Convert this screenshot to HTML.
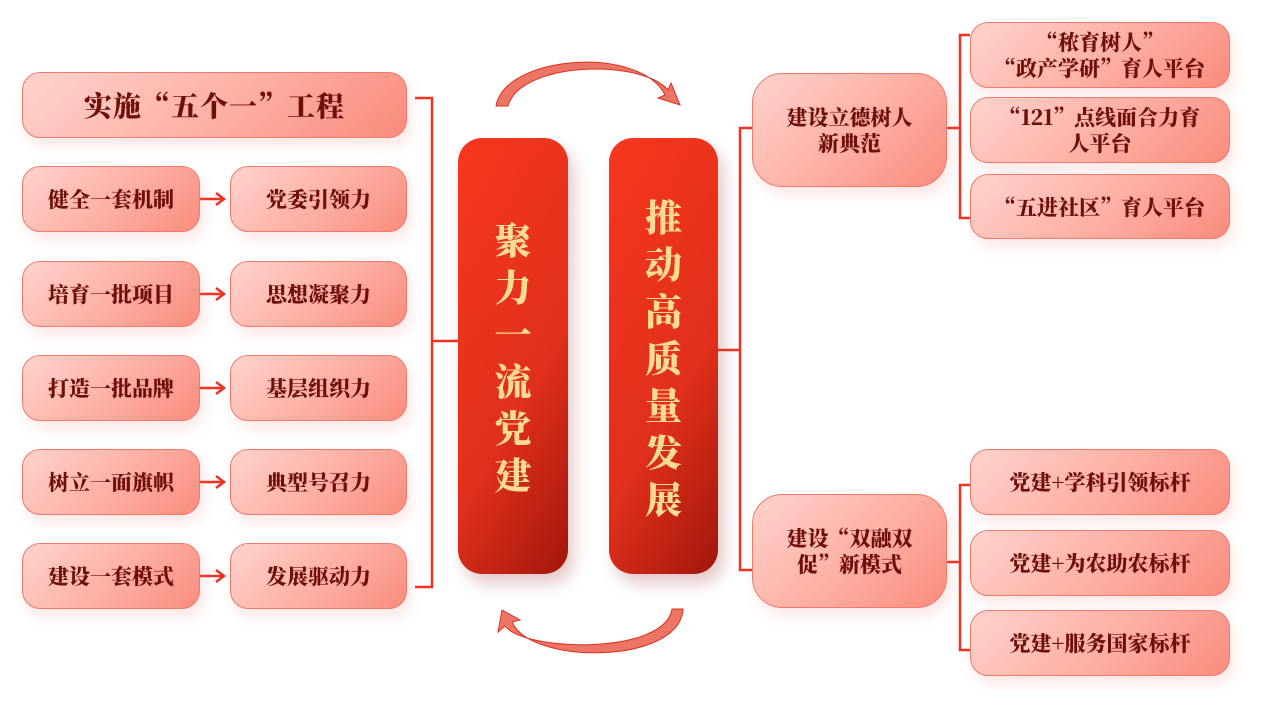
<!DOCTYPE html>
<html><head><meta charset="utf-8"><style>
body{margin:0;width:1281px;height:728px;background:#fff;position:relative;overflow:hidden;font-family:"Noto Serif CJK SC","Liberation Serif",serif;}
.b{position:absolute;box-sizing:border-box;border:1.5px solid #f07a6c;border-radius:18px;background:linear-gradient(135deg,#ffd3cc 0%,#fdaea3 55%,#f98c7d 100%);display:flex;align-items:center;justify-content:center;text-align:center;color:#6e0f0c;font-weight:900;font-size:21px;line-height:26px;box-shadow:4px 8px 14px rgba(240,120,110,0.18);}
.col{position:absolute;border-radius:24px;background:linear-gradient(120deg,#f8361f 0%,#e0301b 60%,#a2160c 100%);color:#fadb94;font-weight:900;font-size:37px;line-height:47px;display:flex;align-items:center;justify-content:center;text-align:center;box-shadow:6px 10px 16px rgba(150,40,40,0.25);}
svg{position:absolute;left:0;top:0}
</style></head><body>
<svg width="1281" height="728">
<g stroke="#ee3322" stroke-width="2.5" fill="none">
<path d="M415 98 H432 V587 H415"/>
<path d="M432 341 H458"/>
<path d="M200 199 H222 M200 294 H222 M200 388 H222 M200 482 H222 M200 576 H222"/>
<path d="M216 193 L224 199 L216 205 M216 288 L224 294 L216 300 M216 382 L224 388 L216 394 M216 476 L224 482 L216 488 M216 570 L224 576 L216 582"/>
<path d="M718 350 H740"/>
<path d="M752 128 H740 V570 H752"/>
<path d="M970 35 H960 V218 H970"/>
<path d="M943 128 H960"/>
<path d="M970 485 H960 V650 H970"/>
<path d="M943 562 H960"/>
</g>
<path d="M496 106 C505 55 640 45 665 95 L658 98 L680 105 L671 83 L668 90 C640 58 520 62 508 106 Z" fill="#ec7565" stroke="#d9321f" stroke-width="1"/>
<path d="M683 609 C680 665 530 665 512 622 L520 620 L502 610 L498 632 L505 626 C525 652 665 655 672 609 Z" fill="#ec7565" stroke="#d9321f" stroke-width="1"/>
</svg>
<div class="b" style="left:22px;top:72px;width:385px;height:66px;font-size:28px;letter-spacing:1px">实施“五个一”工程</div>
<div class="b" style="left:22px;top:166px;width:178px;height:66px">健全一套机制</div>
<div class="b" style="left:230px;top:166px;width:177px;height:66px">党委引领力</div>
<div class="b" style="left:22px;top:261px;width:178px;height:66px">培育一批项目</div>
<div class="b" style="left:230px;top:261px;width:177px;height:66px">思想凝聚力</div>
<div class="b" style="left:22px;top:355px;width:178px;height:66px">打造一批品牌</div>
<div class="b" style="left:230px;top:355px;width:177px;height:66px">基层组织力</div>
<div class="b" style="left:22px;top:449px;width:178px;height:66px">树立一面旗帜</div>
<div class="b" style="left:230px;top:449px;width:177px;height:66px">典型号召力</div>
<div class="b" style="left:22px;top:543px;width:178px;height:66px">建设一套模式</div>
<div class="b" style="left:230px;top:543px;width:177px;height:66px">发展驱动力</div>
<div class="col" style="left:458px;top:138px;width:110px;height:436px">聚<br>力<br>一<br>流<br>党<br>建</div>
<div class="col" style="left:609px;top:138px;width:109px;height:436px">推<br>动<br>高<br>质<br>量<br>发<br>展</div>
<div class="b" style="left:752px;top:73px;width:195px;height:114px;border-radius:30px">建设立德树人<br>新典范</div>
<div class="b" style="left:752px;top:494px;width:195px;height:114px;border-radius:30px">建设“双融双<br>促”新模式</div>
<div class="b" style="left:970px;top:22px;width:260px;height:66px">“秾育树人”<br>“政产学研”育人平台</div>
<div class="b" style="left:970px;top:97px;width:260px;height:66px">“121”点线面合力育<br>人平台</div>
<div class="b" style="left:970px;top:174px;width:260px;height:65px">“五进社区”育人平台</div>
<div class="b" style="left:970px;top:449px;width:260px;height:66px">党建+学科引领标杆</div>
<div class="b" style="left:970px;top:530px;width:260px;height:66px">党建+为农助农标杆</div>
<div class="b" style="left:970px;top:610px;width:260px;height:66px">党建+服务国家标杆</div>
</body></html>
